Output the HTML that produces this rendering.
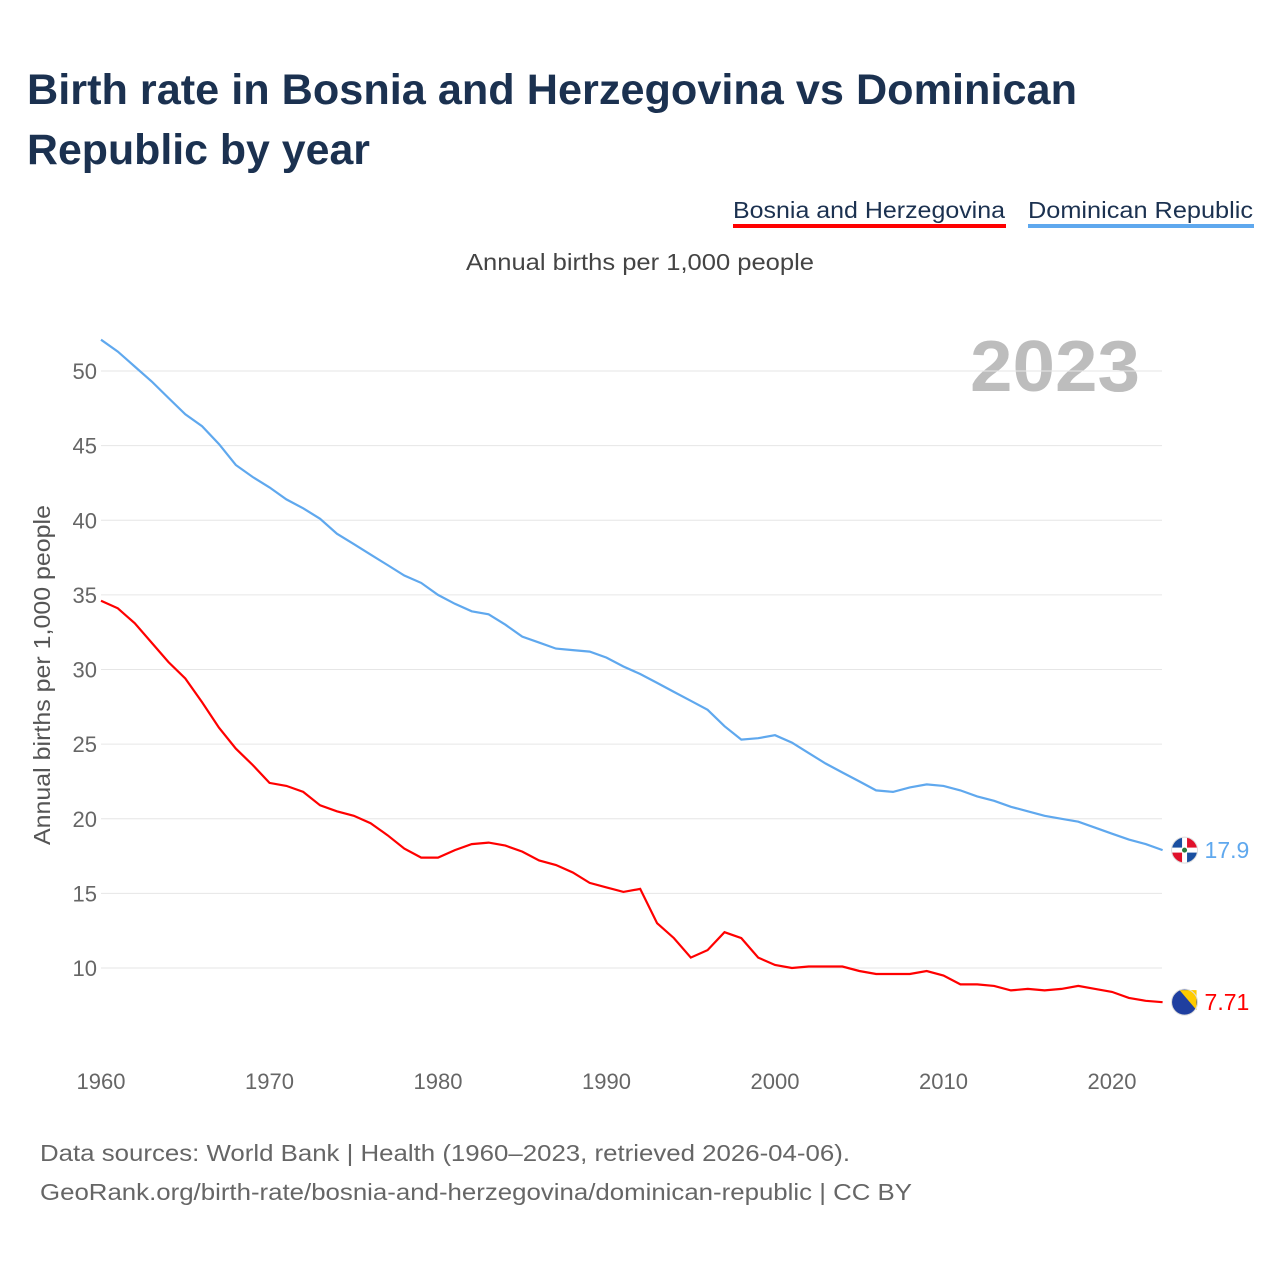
<!DOCTYPE html>
<html><head><meta charset="utf-8">
<style>
body{margin:0;background:#fff;font-family:"Liberation Sans",sans-serif;}
#wrap{position:relative;width:1280px;height:1280px;overflow:hidden;}
</style></head>
<body><div id="wrap">
<svg id="chart" width="1280" height="1280">
<text x="27" y="104" font-size="43" font-weight="bold" fill="#1b3150" textLength="1050" lengthAdjust="spacingAndGlyphs">Birth rate in Bosnia and Herzegovina vs Dominican</text>
<text x="27" y="164" font-size="43" font-weight="bold" fill="#1b3150" textLength="343" lengthAdjust="spacingAndGlyphs">Republic by year</text>
<g>
<text x="733" y="218" font-size="23" fill="#1b3150" textLength="272" lengthAdjust="spacingAndGlyphs">Bosnia and Herzegovina</text>
<rect x="733" y="224" width="273" height="4" fill="#ff0000"/>
<text x="1028" y="218" font-size="23" fill="#1b3150" textLength="225" lengthAdjust="spacingAndGlyphs">Dominican Republic</text>
<rect x="1028" y="224" width="226" height="4" fill="#5fa8ee"/>
</g>
<text x="466" y="270" font-size="23" fill="#444" textLength="348" lengthAdjust="spacingAndGlyphs">Annual births per 1,000 people</text>
<text x="1140" y="391" font-size="72" font-weight="bold" fill="#bdbdbd" text-anchor="end" textLength="170" lengthAdjust="spacingAndGlyphs">2023</text>
<text transform="translate(50,845) rotate(-90)" font-size="23" fill="#555" textLength="340" lengthAdjust="spacingAndGlyphs">Annual births per 1,000 people</text>
<g id="grid"></g><g id="lines"></g><g id="labels"></g>
<text x="40" y="1161" font-size="23" fill="#666" textLength="810" lengthAdjust="spacingAndGlyphs">Data sources: World Bank | Health (1960–2023, retrieved 2026-04-06).</text>
<text x="40" y="1200" font-size="23" fill="#666" textLength="872" lengthAdjust="spacingAndGlyphs">GeoRank.org/birth-rate/bosnia-and-herzegovina/dominican-republic | CC BY</text>
</svg></div>
<script>
const years=[];for(let y=1960;y<=2023;y++)years.push(y);
const dominican=[52.1,51.3,50.3,49.3,48.2,47.1,46.3,45.1,43.7,42.9,42.2,41.4,40.8,40.1,39.1,38.4,37.7,37.0,36.3,35.8,35.0,34.4,33.9,33.7,33.0,32.2,31.8,31.4,31.3,31.2,30.8,30.2,29.7,29.1,28.5,27.9,27.3,26.2,25.3,25.4,25.6,25.1,24.4,23.7,23.1,22.5,21.9,21.8,22.1,22.3,22.2,21.9,21.5,21.2,20.8,20.5,20.2,20.0,19.8,19.4,19.0,18.6,18.3,17.9];
const bosnia=[34.6,34.1,33.1,31.8,30.5,29.4,27.8,26.1,24.7,23.6,22.4,22.2,21.8,20.9,20.5,20.2,19.7,18.9,18.0,17.4,17.4,17.9,18.3,18.4,18.2,17.8,17.2,16.9,16.4,15.7,15.4,15.1,15.3,13.0,12.0,10.7,11.2,12.4,12.0,10.7,10.2,10.0,10.1,10.1,10.1,9.8,9.6,9.6,9.6,9.8,9.5,8.9,8.9,8.8,8.5,8.6,8.5,8.6,8.8,8.6,8.4,8.0,7.8,7.71];
const yTicks=[10,15,20,25,30,35,40,45,50];
const xTicks=[1960,1970,1980,1990,2000,2010,2020];
const ns="http://www.w3.org/2000/svg";
const X=y=>101+(y-1960)*16.85;
const Y=v=>968-(v-10)*14.925;
const grid=document.getElementById('grid'),lines=document.getElementById('lines'),labels=document.getElementById('labels');
function mk(t,a,p){const e=document.createElementNS(ns,t);for(const k in a)e.setAttribute(k,a[k]);p.appendChild(e);return e;}
yTicks.forEach(v=>{
 const l=mk('line',{x1:101,x2:1162,y1:Y(v),y2:Y(v),stroke:'#e6e6e6','stroke-width':1},grid);
 
 
 const t=mk('text',{x:97,y:Y(v)+8,'font-size':22,fill:'#666','text-anchor':'end'},labels);t.textContent=v;
 
 
});
xTicks.forEach(v=>{
 const t=mk('text',{x:X(v),y:1089,'font-size':22,fill:'#666','text-anchor':'middle'},labels);t.textContent=v;
 
 
});
function flag(cx,cy,kind,name){
 const g=mk('g',{},labels);
 
 
 const r=13;
 if(kind==='do'){
  mk('path',{d:`M${cx},${cy}L${cx-r},${cy}A${r},${r} 0 0 1 ${cx},${cy-r}Z`,fill:'#1a4fa0'},g);
  mk('path',{d:`M${cx},${cy}L${cx},${cy-r}A${r},${r} 0 0 1 ${cx+r},${cy}Z`,fill:'#e0112b'},g);
  mk('path',{d:`M${cx},${cy}L${cx+r},${cy}A${r},${r} 0 0 1 ${cx},${cy+r}Z`,fill:'#1a4fa0'},g);
  mk('path',{d:`M${cx},${cy}L${cx},${cy+r}A${r},${r} 0 0 1 ${cx-r},${cy}Z`,fill:'#e0112b'},g);
  mk('rect',{x:cx-r,y:cy-2.5,width:2*r,height:5,fill:'#fff'},g);
  mk('rect',{x:cx-2.5,y:cy-r,width:5,height:2*r,fill:'#fff'},g);
  mk('circle',{cx:cx,cy:cy,r:2.5,fill:'#2a7a3a'},g);
 }else{
  mk('circle',{cx:cx,cy:cy,r:r,fill:'#1f3fa0'},g);
  mk('path',{d:`M${cx-5},${cy-r+1}L${cx+r-1},${cy-r+1}L${cx+r-1},${cy+8}Z`,fill:'#fecb00'},g);
 }
 mk('circle',{cx:cx,cy:cy,r:r,fill:'none',stroke:'#ddd','stroke-width':1},g);
}
function series(data,color,name,kind){
 const p=mk('path',{d:data.map((v,i)=>(i?'L':'M')+X(years[i]).toFixed(1)+','+Y(v).toFixed(1)).join(''),fill:'none',stroke:color,'stroke-width':2.2},lines);
 
 
 const last=data[data.length-1],lx=X(years[years.length-1]),ly=Y(last);
 flag(lx+22,ly,kind,name);
 const t=mk('text',{x:lx+42,y:ly+8,'font-size':23,fill:color},labels);t.textContent=String(last);
 
 
}
series(dominican,'#5fa8ee','dominican','do');
series(bosnia,'#ff0000','bosnia','ba');
</script>
</body></html>
